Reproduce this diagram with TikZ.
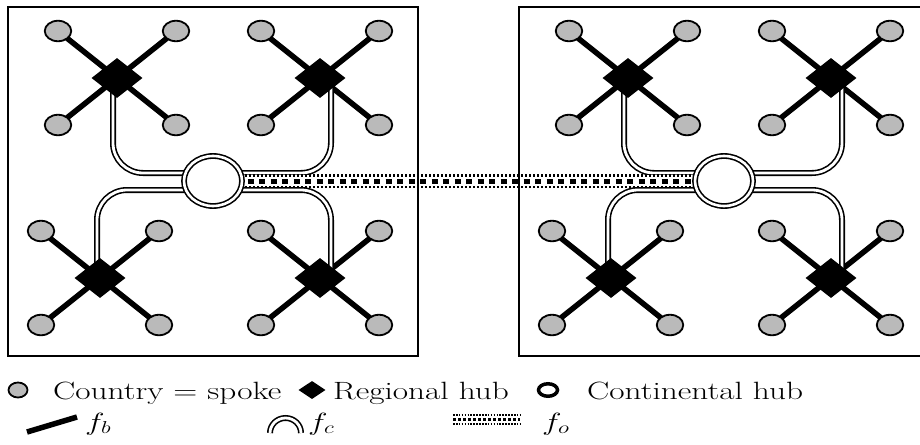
\documentclass[tikz,border=0pt]{standalone}
\usepackage{graphicx}
\usetikzlibrary{shapes.geometric,backgrounds}

\newcommand{\legwide}[1]{\scalebox{1.33}[1]{#1}}

\begin{document}
\begin{tikzpicture}[x=1pt, y=-1pt,
	spoke/.style={ellipse, draw=black, line width=1.8pt, fill=black!27, minimum width=26.5pt, minimum height=20.5pt, inner sep=0pt},
	hub/.style={diamond, fill=black, minimum width=51pt, minimum height=40pt, inner sep=0pt},
	conthub/.style={ellipse, draw=black, line width=1.6pt, double=white, double distance=2.6pt, fill=white, minimum width=58pt, minimum height=50pt, inner sep=0pt},
	fb/.style={line width=5.5pt},
	fc/.style={line width=1.6pt, double=white, double distance=2.8pt, rounded corners=30pt},
	smalldots/.style={line width=2.6pt, dash pattern=on 2.2pt off 1.8pt},
	bigdots/.style={line width=5pt, dash pattern=on 6pt off 5.5pt},
	panel/.style={draw=black, line width=1.5pt},
	legtext/.style={anchor=base west, inner sep=0pt, font=\fontsize{25}{28}\selectfont}]
	\useasboundingbox (0,0) rectangle (920,444);
	\clip (0,0) rectangle (920,444);
	% two regions, each with four regional hubs
	\foreach \p/\dx in {L/0, R/511}
	{
		\begin{scope}[shift={(\dx,0)}]
			\draw[panel] (8,7) rectangle (418,356);
			\node[conthub] (\p_ch) at (213,181) {};
			\foreach \h/\hx/\hy in {tl/117/78, tr/320/78, bl/100/278, br/320/278}
			{
				\node[hub] (\p_\h) at (\hx,\hy) {};
				\foreach \s/\sx/\sy in {a/-59/-47, b/59/-47, c/-59/47, d/59/47}
				{
					\node[spoke] (\p_\h_\s) at (\hx+\sx,\hy+\sy) {};
					\begin{scope}[on background layer]
						\draw[fb] (\p_\h.center) -- (\p_\h_\s.center);
					\end{scope}
				}
			}
			% regional hubs to continental hub
			\begin{scope}[on background layer]
				\draw[fc] ([xshift=-4pt]\p_tl.center) |- ([yshift=8pt]\p_ch.center);
				\draw[fc] ([xshift=11pt]\p_tr.center) |- ([yshift=8pt]\p_ch.center);
				\draw[fc] ([xshift=-3pt]\p_bl.center) |- ([yshift=-9pt]\p_ch.center);
				\draw[fc] ([xshift=11pt]\p_br.center) |- ([yshift=-9pt]\p_ch.center);
			\end{scope}
		\end{scope}
	}
	% continental hub to continental hub
	\begin{scope}[on background layer]
		\draw[white, line width=12pt] ([yshift=-0.3pt]L_ch.center) -- ([yshift=-0.3pt]R_ch.center);
		\draw[smalldots] ([yshift=5.5pt]L_ch.center) -- ([yshift=5.5pt]R_ch.center);
		\draw[bigdots] (L_ch.center) -- (R_ch.center);
		\draw[smalldots] ([yshift=-6pt]L_ch.center) -- ([yshift=-6pt]R_ch.center);
	\end{scope}
	% legend
	\node[spoke, minimum width=19pt, minimum height=15pt] (legspoke) at (18,390) {};
	\node[legtext] (legspoketext) at (53,399) {\legwide{Country = spoke}};
	\node[hub, minimum width=27pt, minimum height=18pt] (leghub) at (312,390) {};
	\node[legtext] (leghubtext) at (333,399) {\legwide{Regional hub}};
	\node[ellipse, draw=black, line width=3.5pt, minimum width=19pt, minimum height=12.5pt, inner sep=0pt] (legch) at (548,390) {};
	\node[legtext] (legchtext) at (587,399) {\legwide{Continental hub}};
	\coordinate (legfb_a) at (27,432);
	\coordinate (legfb_b) at (77,417);
	\draw[fb] (legfb_a) -- (legfb_b);
	\node[legtext] (legfbtext) at (85,430) {\legwide{$f_b$}};
	\coordinate (legfc_a) at (270,433);
	\draw[fc] (legfc_a) arc[start angle=180, end angle=0, x radius=15.5pt, y radius=15pt];
	\node[legtext] (legfctext) at (308,430) {\legwide{$f_c$}};
	\coordinate (legfo_a) at (453,419.5);
	\coordinate (legfo_b) at (520,419.5);
	\draw[smalldots, line width=1.8pt, dash pattern=on 1.6pt off 1.3pt] ([yshift=4.5pt]legfo_a) -- ([yshift=4.5pt]legfo_b);
	\draw[line width=3pt, dash pattern=on 3pt off 2pt] (legfo_a) -- (legfo_b);
	\draw[smalldots, line width=1.8pt, dash pattern=on 1.6pt off 1.3pt] ([yshift=-4.5pt]legfo_a) -- ([yshift=-4.5pt]legfo_b);
	\node[legtext] (legfotext) at (542,430) {\legwide{$f_o$}};
\end{tikzpicture}
\end{document}
